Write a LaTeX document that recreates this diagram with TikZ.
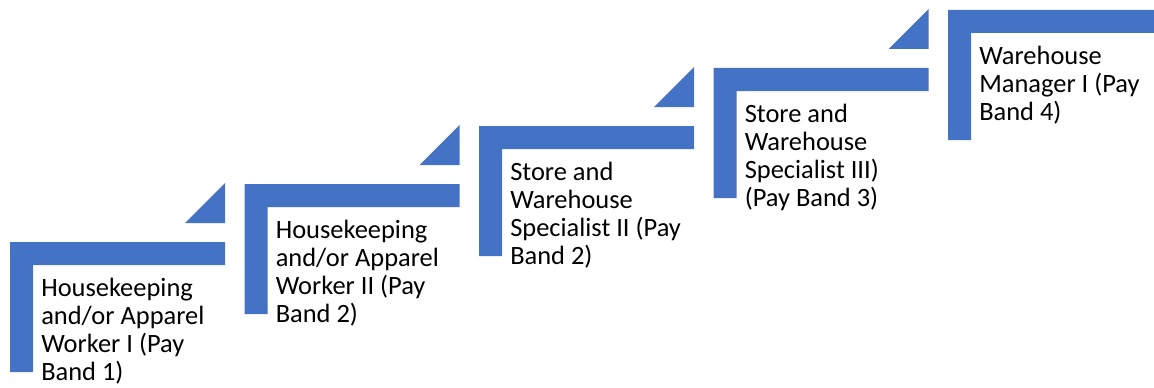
\documentclass[tikz,border=0pt]{standalone}
\usepackage{fontspec}
\setmainfont{Carlito}
\definecolor{stepblue}{HTML}{4472C4}
\tikzset{
 stepbar/.style={fill=stepblue, draw=none},
 steplabel/.style={anchor=north west, inner sep=0pt, align=left,
   font=\fontsize{18.8}{19.9}\selectfont},
}

\begin{document}
\begin{tikzpicture}[x=0.025cm, y=-0.025cm]
        \useasboundingbox (0,0) rectangle (1154,387);
        \clip (0,0) rectangle (1154,387);
        
        \foreach \txt [count=\i from 0] in {
            {Housekeeping\\and/or Apparel\\Worker I (Pay\\Band 1)},
            {Housekeeping\\and/or Apparel\\Worker II (Pay\\Band 2)},
            {Store and\\Warehouse\\Specialist II (Pay\\Band 2)},
            {Store and\\Warehouse\\Specialist III)\\(Pay Band 3)},
            {Warehouse\\Manager I (Pay\\Band 4)}} {
            \pgfmathsetmacro\lx{10+234.5*\i}
            \pgfmathsetmacro\ty{242-58*\i}
            \fill[stepbar] (\lx,\ty) -- ++(215,0) -- ++(0,23) -- ++(-192,0) -- ++(0,107) -- ++(-23,0) -- cycle;
            \ifnum\i<4
                \fill[stepbar] (\lx+215,\ty-59) -- ++(0,40) -- ++(-40,0) -- cycle;
            \fi
            \node[steplabel] (step\i) at (\lx+31,\ty+36) {\txt};
        }
    \end{tikzpicture}
\end{document}
